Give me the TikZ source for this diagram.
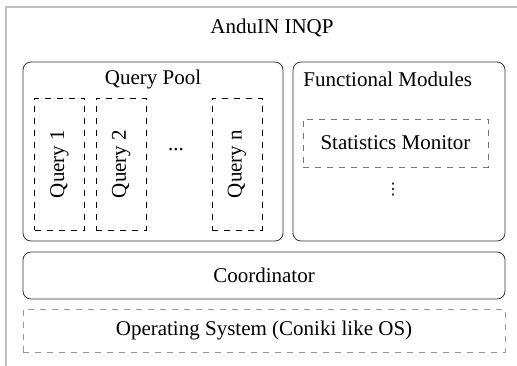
\documentclass[tikz,border=0pt]{standalone}
\usepackage{fontspec}
\setmainfont{Liberation Serif}
\newfontfamily\dejavu{DejaVu Sans}
\usepackage{tikz}
\usetikzlibrary{positioning}
\tikzset{
  modbox/.style={draw=black!80,rounded corners=4pt,minimum width=#1,minimum height=89.5pt},
  qbox/.style={draw,dashed,minimum width=25pt,minimum height=66pt,inner sep=0pt},
  graybox/.style={draw=black!55,dashed,inner sep=0pt}
}
\begin{document}
\begin{tikzpicture}[x=0.5pt,y=-0.5pt,font=\fontsize{10.5}{12}\selectfont,node distance=5pt]
    \clip (0,0) rectangle (517,365);
    \draw[black!25,line width=1pt] (6,400) |- (560,7);
    \node (inqp) at (272,28) {AnduIN INQP};

    \node (pool) [modbox=130pt] at (153,151.5) {};
    \node (poolt) at (153,79) {Query Pool};
    \node (q1) [qbox] at (59.5,164) {\rotatebox{90}{Query 1}};
    \node (q2) [qbox,right=5.5pt of q1] {\rotatebox{90}{Query 2}};
    \node (qd) at (176,150) {...};
    \node (qn) [qbox] at (237,164) {\rotatebox{90}{Query n}};

    \node (fm) [modbox=106pt] at (399,151.5) {};
    \node (fmt) [anchor=west,inner sep=0pt] at (303,79) {Functional Modules};
    \node (stat) [graybox,minimum width=92.5pt,minimum height=24pt] at (395.5,143) {Statistics Monitor};
    \node (sd) [font=\dejavu\fontsize{8}{9}\selectfont] at (393,190) {⋮};

    \node (coord) [draw=black!80,rounded corners=4pt,minimum width=241pt,minimum height=23.5pt] at (264,275.5) {Coordinator};
    \node (os) [graybox,draw=black!40,minimum width=241pt,minimum height=21.5pt] at (264,330.5) {Operating System (Coniki like OS)};
  \end{tikzpicture}
\end{document}
